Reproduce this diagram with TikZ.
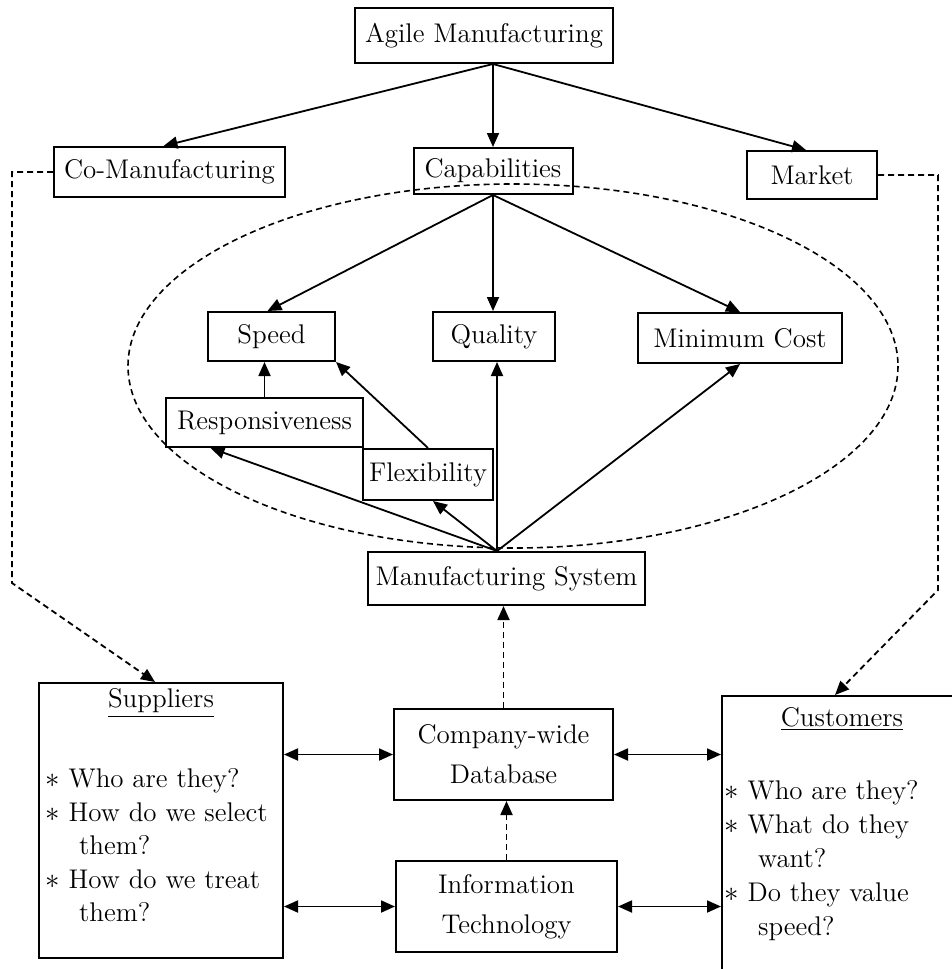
\documentclass[tikz,border=0pt]{standalone}
\usetikzlibrary{arrows.meta}
\begin{document}
\begin{tikzpicture}[x=0.5pt, y=-0.5pt,
  every node/.style={font=\fontsize{13.5}{20}\selectfont},
  box/.style={draw, line width=1pt, inner sep=0pt, align=center},
  link/.style={-{Triangle[length=7pt,width=6pt]}, line width=0.9pt},
  twoway/.style={{Triangle[length=7pt,width=6pt]}-{Triangle[length=7pt,width=6pt]}, line width=0.9pt},
  dlink/.style={link, dash pattern=on 3pt off 2pt}]
  \useasboundingbox (0,0) rectangle (952,969);

  % Top level
  \node[box, minimum width=129pt, minimum height=27.5pt] (agile) at (484,35.5) {Agile Manufacturing};
  \node[box, minimum width=115.5pt, minimum height=25pt] (coman) at (169.5,172) {Co-Manufacturing};
  \node[box, minimum width=79.5pt, minimum height=23pt] (capab) at (493,171) {Capabilities};
  \node[box, minimum width=65pt, minimum height=24pt] (market) at (812,175) {Market};

  % Capabilities ellipse
  \draw[line width=0.8pt, dash pattern=on 3pt off 2pt] (513,366) ellipse [x radius=385, y radius=182];
  \node[box, minimum width=63.5pt, minimum height=24.5pt] (speed) at (271.5,336.5) {Speed};
  \node[box, minimum width=61pt, minimum height=24.5pt] (quality) at (494,336.5) {Quality};
  \node[box, minimum width=102pt, minimum height=25pt] (mincost) at (740,338) {Minimum Cost};
  \node[box, minimum width=98.5pt, minimum height=24.5pt] (resp) at (264.5,422.5) {Responsiveness};
  \node[box, minimum width=65pt, minimum height=25.5pt] (flex) at (428,474.5) {Flexibility};
  \node[box, minimum width=138.5pt, minimum height=26.5pt] (mansys) at (506.5,578.5) {Manufacturing System};

  % Bottom level
  \node[box, minimum width=122pt, minimum height=137.5pt] (suppliers) at (161,820.5) {};
  \node (supptitle) at (161,703) {\underline{Suppliers}};
  \node[anchor=north west, inner sep=0pt, align=left, font=\fontsize{13.5}{16.8}\selectfont] (supplist) at (45,768)
    {$\ast$\ Who are they?\\ $\ast$\ How do we select\\ \hspace*{1.25em}them?\\ $\ast$\ How do we treat\\ \hspace*{1.25em}them?};
  \node[box, minimum width=109.5pt, minimum height=45.5pt] (database) at (503.5,754.5) {Company-wide\\Database};
  \node[box, minimum width=110.5pt, minimum height=45.5pt] (infotech) at (506.5,906.5) {Information\\Technology};
  \node[box, anchor=north west, minimum width=119.5pt, minimum height=140pt] (customers) at (721,695) {};
  \node (custtitle) at (842,719) {\underline{Customers}};
  \node[anchor=north west, inner sep=0pt, align=left, font=\fontsize{13.5}{17}\selectfont] (custlist) at (724,780)
    {$\ast$\ Who are they?\\ $\ast$\ What do they\\ \hspace*{1.25em}want?\\ $\ast$\ Do they value\\ \hspace*{1.25em}speed?};

  % Arrows from the top
  \coordinate (ahub) at (capab.north |- agile.south);
  \draw[link] (ahub) -- ([xshift=-3pt]coman.north);
  \draw[link] (ahub) -- (capab.north);
  \draw[link] (ahub) -- ([xshift=-3pt]market.north);
  \draw[link] (capab.south) -- ([xshift=-2pt]speed.north);
  \draw[link] (capab.south) -- (capab.south |- quality.north);
  \draw[link] (capab.south) -- (mincost.north);

  % Arrows from the manufacturing system
  \coordinate (hub) at ([xshift=-4.75pt]mansys.north);
  \draw[link] (hub) -- ([xshift=-27pt]resp.south);
  \draw[link] (hub) -- ([xshift=2.5pt]flex.south);
  \draw[link] (hub) -- (hub |- quality.south);
  \draw[link] (hub) -- (mincost.south);
  \draw[link] (resp.north) -- (resp.north |- speed.south);
  \draw[link] (flex.north) -- (speed.south east);

  % Dashed links
  \coordinate (lbend) at (12,583);
  \coordinate (rbend) at (938,590);
  \draw[dlink] (coman.west) -| (lbend) -- ([xshift=-3pt]suppliers.north);
  \draw[dlink] (market.east) -| (rbend) -- ([xshift=57pt]customers.north west);
  \draw[dlink] (database.north) -- (database.north |- mansys.south);
  \draw[dlink] (infotech.north) -- (infotech.north |- database.south);

  % Two-way links
  \draw[twoway] (database.west -| suppliers.east) -- (database.west);
  \draw[twoway] (infotech.west -| suppliers.east) -- (infotech.west);
  \draw[twoway] (database.east) -- (database.east -| customers.west);
  \draw[twoway] (infotech.east) -- (infotech.east -| customers.west);
\end{tikzpicture}
\end{document}
